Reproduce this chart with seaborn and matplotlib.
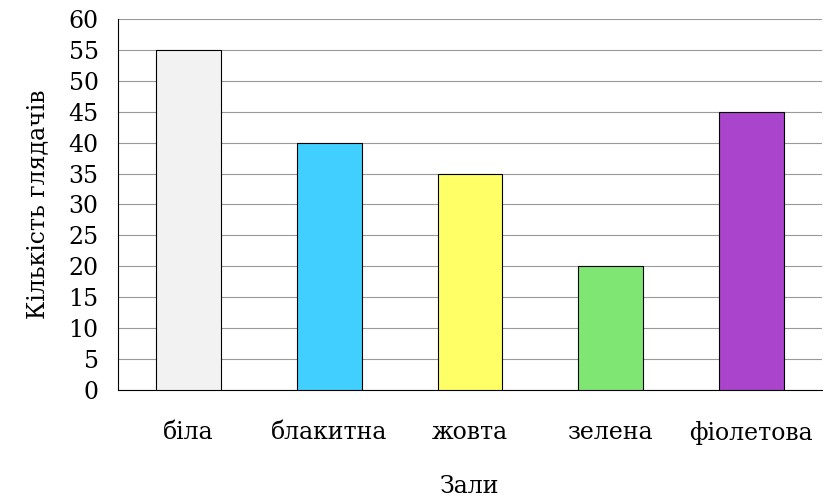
import matplotlib

matplotlib.use("Agg")
import matplotlib.pyplot as plt
import pandas as pd
import seaborn as sns

halls = ["біла", "блакитна", "жовта", "зелена", "фіолетова"]
viewers = [55, 40, 35, 20, 45]
colours = ["#f2f2f2", "#40cfff", "#ffff66", "#80e673", "#aa44cc"]

sns.set_theme(style="white")
plt.rcParams["font.family"] = ["DejaVu Serif"]

df = pd.DataFrame({"hall": halls, "viewers": viewers})
fig = plt.figure(figsize=(8.27, 4.99), dpi=100)
ax = fig.add_axes([0.1427, 0.2184, 0.851, 0.7436])
sns.barplot(data=df, x="hall", y="viewers", hue="hall", palette=colours,
            width=0.46, edgecolor="black", linewidth=0.8, saturation=1,
            legend=False, ax=ax, zorder=3)
ax.set_xlim(-0.5, 4.5)
ax.set_ylim(0, 60)
ax.set_yticks(range(0, 61, 5))
ax.yaxis.grid(True, color="#999999", linewidth=0.8, zorder=0)
ax.set_axisbelow(True)
for s in ("top", "right"):
    ax.spines[s].set_visible(False)
for s in ("left", "bottom"):
    ax.spines[s].set_color("black")
    ax.spines[s].set_linewidth(0.8)
ax.tick_params(axis="y", labelsize=17, length=0, pad=14, colors="black")
ax.tick_params(axis="x", labelsize=17, length=0, pad=22, colors="black")
ax.set_xlabel("Зали", fontsize=17, labelpad=22, color="black")
ax.set_ylabel("Кількість глядачів", fontsize=17, labelpad=14, color="black")
fig.savefig("out.png", dpi=100)
